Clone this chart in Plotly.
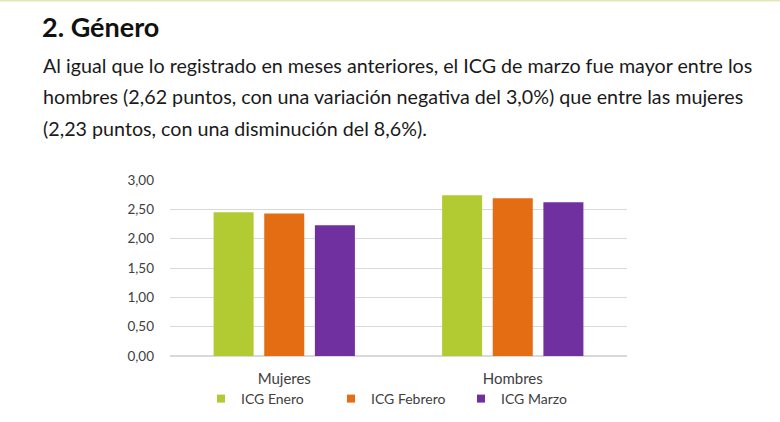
import plotly.graph_objects as go

categories = ["Mujeres", "Hombres"]
series_names = ["ICG Enero", "ICG Febrero", "ICG Marzo"]
icg_enero = [2.45, 2.74]
icg_febrero = [2.43, 2.69]
icg_marzo = [2.23, 2.62]
colors = ["#B3CB32", "#E46C12", "#7030A0"]

title_text = "<b>2. Género</b>"
paragraph = [
    "Al igual que lo registrado en meses anteriores, el ICG de marzo fue mayor entre los",
    "hombres (2,62 puntos, con una variación negativa del 3,0%) que entre las mujeres",
    "(2,23 puntos, con una disminución del 8,6%).",
]

W, H = 780, 422
ML, MR, MT, MB = 170, 153, 180, 66
PW, PH = W - ML - MR, H - MT - MB


def px(x):
    return (x - ML) / PW


def py(y):
    return (H - MB - y) / PH


FONT = "Lato"

fig = go.Figure()
for name, vals, c in zip(series_names, [icg_enero, icg_febrero, icg_marzo], colors):
    fig.add_trace(go.Bar(x=categories, y=vals, name=name, marker_color=c,
                         marker_line_width=0, showlegend=False, legendgroup=name))
    # legend entry with a small square swatch
    fig.add_trace(go.Scatter(x=[None], y=[None], mode="markers", name=name, legendgroup=name,
                             marker=dict(symbol="square", size=8, color=c), showlegend=True))

annotations = [
    dict(text=title_text, x=px(40), y=py(26), xref="paper", yref="paper",
         xanchor="left", yanchor="middle", showarrow=False,
         font=dict(family=FONT, size=27, color="#111111")),
]
for i, line in enumerate(paragraph):
    annotations.append(dict(text=line, x=px(41), y=py(65 + 31.5 * i), xref="paper", yref="paper",
                            xanchor="left", yanchor="middle", showarrow=False,
                            font=dict(family=FONT, size=19.7, color="#1a1a1a")))

fig.update_layout(
    width=W, height=H,
    margin=dict(l=ML, r=MR, t=MT, b=MB, pad=0, autoexpand=False),
    paper_bgcolor="white", plot_bgcolor="white",
    barmode="group", bargap=0.335, bargroupgap=0.21,
    separators=",.",
    font=dict(family=FONT, size=13, color="#404040"),
    showlegend=True,
    legend=dict(orientation="h", x=0.5 + 6 / W, xanchor="center", xref="container",
                y=1 - 399 / H, yanchor="middle", yref="container",
                font=dict(family=FONT, size=14, color="#404040"), itemwidth=30,
                entrywidth=85, entrywidthmode="pixels",
                traceorder="normal", bgcolor="rgba(0,0,0,0)"),
    annotations=annotations,
    shapes=[dict(type="line", xref="paper", yref="paper",
                 x0=px(0), x1=px(W), y0=py(0.5), y1=py(0.5),
                 line=dict(color="#DDEBB8", width=2))],
)
fig.update_yaxes(range=[0, 3], dtick=0.5, tickformat=".2f", showgrid=True,
                 gridcolor="#D9D9D9", gridwidth=1, zeroline=True, zerolinecolor="#D9D9D9",
                 ticks="", ticklabelstandoff=15, tickfont=dict(size=13.5, color="#404040"),
                 fixedrange=True, automargin=False)
fig.update_xaxes(showline=False, ticks="", ticklabelstandoff=12,
                 tickfont=dict(size=15, color="#404040"), fixedrange=True, automargin=False)

fig.write_html("out.html")
